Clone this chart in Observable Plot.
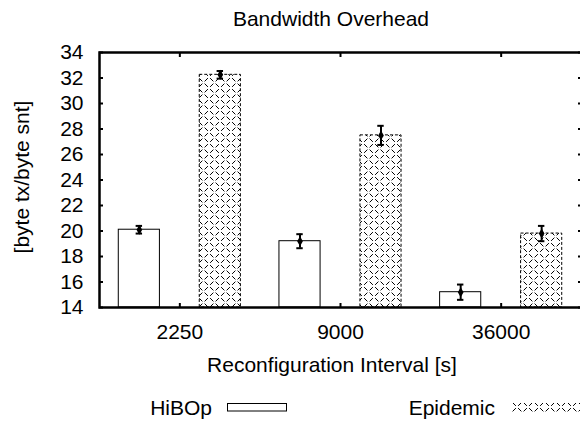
<!DOCTYPE html>
<html><head><meta charset="utf-8">
<script src="https://cdn.jsdelivr.net/npm/d3@7"></script>
<script src="https://cdn.jsdelivr.net/npm/@observablehq/plot@0.6"></script>
<style>html,body{margin:0;padding:0;background:#fff} svg{display:block}</style>
</head><body><div id="chart"></div>
<script>
const categories = ["2250", "9000", "36000"];
const series = ["HiBOp", "Epidemic"];
const hibop = [20.1, 19.2, 15.2];
const hibopErr = [0.3, 0.55, 0.6];
const epidemic = [32.25, 27.5, 19.8];
const epidemicErr = [0.3, 0.75, 0.6];
const yTicks = [14, 16, 18, 20, 22, 24, 26, 28, 30, 32, 34];
const title = "Bandwidth Overhead";
const xLabel = "Reconfiguration Interval [s]";
const yLabel = "[byte tx/byte snt]";

const rows = [];
categories.forEach((c, i) => {
  rows.push({cat: c, i, series: series[0], value: hibop[i], err: hibopErr[i], off: -1});
  rows.push({cat: c, i, series: series[1], value: epidemic[i], err: epidemicErr[i], off: 1});
});
const gap = 0.252, half = 0.128, cap = 0.02;
const xc = d => d.i + d.off * gap;
const hRows = rows.filter(d => d.series === series[0]);
const eRows = rows.filter(d => d.series === series[1]);

const font = "'Liberation Sans', Arial, Helvetica, sans-serif";
const fs = 21;
const plot = Plot.plot({
  width: 580, height: 422,
  marginLeft: 99, marginRight: -1, marginTop: 52, marginBottom: 115,
  style: {fontFamily: font, fontSize: fs + "px", color: "#000", background: "#fff", overflow: "visible"},
  x: {type: "linear", domain: [-0.5, categories.length - 0.5]},
  y: {domain: [yTicks[0], yTicks[yTicks.length - 1]]},
  marks: [
    Plot.rectY(hRows, {x1: d => xc(d) - half, x2: d => xc(d) + half, y1: yTicks[0], y2: "value", fill: "white", stroke: "black", strokeWidth: 1}),
    Plot.rectY(eRows, {x1: d => xc(d) - half, x2: d => xc(d) + half, y1: yTicks[0], y2: "value", fill: "url(#epiPattern)", stroke: "black", strokeWidth: 1, strokeDasharray: "3 2"}),
    Plot.ruleX(rows, {x: xc, y1: d => d.value - d.err, y2: d => d.value + d.err, strokeWidth: 2, stroke: "black"}),
    Plot.ruleY(rows, {y: d => d.value + d.err, x1: d => xc(d) - cap, x2: d => xc(d) + cap, strokeWidth: 2, stroke: "black"}),
    Plot.ruleY(rows, {y: d => d.value - d.err, x1: d => xc(d) - cap, x2: d => xc(d) + cap, strokeWidth: 2, stroke: "black"}),
    Plot.dot(rows, {x: xc, y: "value", symbol: "diamond", r: 3, fill: "black"}),
    Plot.axisY(yTicks, {anchor: "left", tickSize: -4, tickPadding: 20, strokeWidth: 2, label: null, fontSize: fs}),
    Plot.axisY(yTicks, {anchor: "right", tickSize: -4, tickFormat: () => "", strokeWidth: 2, label: null}),
    Plot.axisX(d3.range(categories.length), {anchor: "bottom", tickSize: -4, tickPadding: 21, tickFormat: i => categories[i], strokeWidth: 2, label: null, fontSize: fs}),
    Plot.axisX(d3.range(categories.length), {anchor: "top", tickSize: -4, tickFormat: () => "", strokeWidth: 2, label: null}),
    Plot.frame({strokeWidth: 2.5, stroke: "black"})
  ]
});

const svg = d3.select(plot);
const defs = svg.insert("defs", ":first-child");
const P = 11, side = P / Math.SQRT2, dash = side * 0.6, gapLen = side - dash;
const pat = defs.append("pattern").attr("id", "epiPattern").attr("patternUnits", "userSpaceOnUse")
  .attr("width", P).attr("height", P);
pat.append("rect").attr("width", P).attr("height", P).attr("fill", "white");
pat.append("path").attr("d", `M0,0L${P},${P}M${P},0L0,${P}`).attr("stroke", "black").attr("stroke-width", 1)
  .attr("stroke-dasharray", `${dash} ${gapLen}`).attr("stroke-dashoffset", -gapLen / 2).attr("fill", "none");

const txt = (x, y, s, size, anchor) => svg.append("text").attr("x", x).attr("y", y)
  .attr("text-anchor", anchor || "middle").attr("dy", "0.35em")
  .attr("font-family", font).attr("font-size", size).attr("fill", "#000").text(s);

txt(331, 19, title, fs);
txt(332, 365, xLabel, fs);
txt(0, 0, yLabel, fs).attr("transform", "translate(22,177) rotate(-90)");

// legend
txt(212, 408, series[0], fs, "end");
svg.append("rect").attr("x", 227.5).attr("y", 403.5).attr("width", 59).attr("height", 7.5)
  .attr("fill", "white").attr("stroke", "black").attr("stroke-width", 1);
txt(495, 408, series[1], fs, "end");
svg.append("rect").attr("x", 511).attr("y", 403).attr("width", 80).attr("height", 9)
  .attr("fill", "url(#epiPattern)");

document.getElementById("chart").appendChild(plot);
</script>
</body></html>
